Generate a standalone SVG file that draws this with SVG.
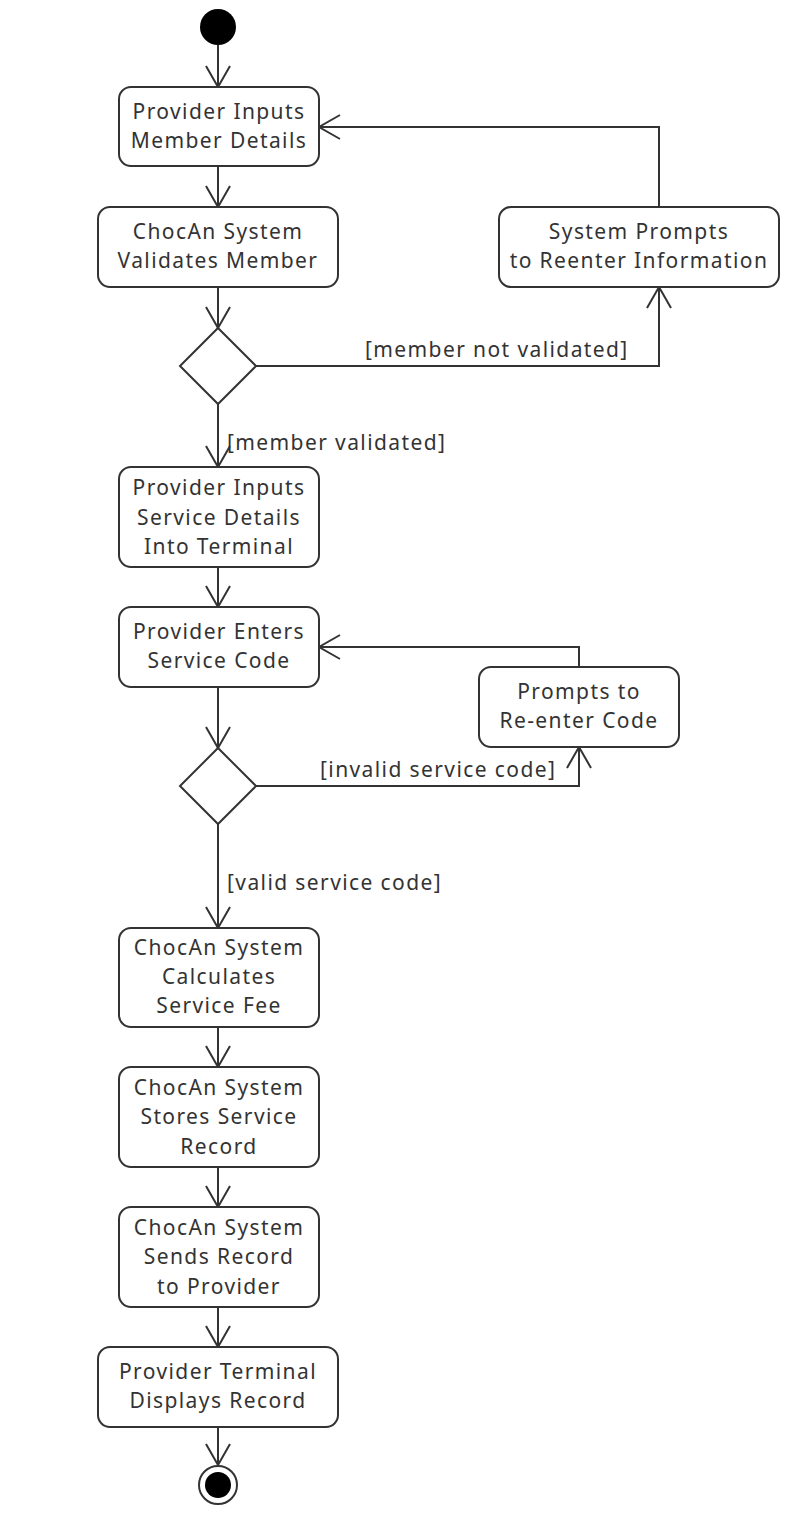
<svg xmlns="http://www.w3.org/2000/svg" width="808" height="1532" viewBox="0 0 808 1532">
<style>
.box{fill:#fff;stroke:#333;stroke-width:2}
.t{font-family:"Noto Sans","Open Sans",sans-serif;font-size:21px;letter-spacing:1.4px;fill:#333;text-anchor:middle}
.l{font-family:"Noto Sans","Open Sans",sans-serif;font-size:21px;letter-spacing:1.4px;fill:#333}
.c{fill:none;stroke:#333;stroke-width:2;marker-end:url(#arr)}
</style>
<defs>
<marker id="arr" markerUnits="userSpaceOnUse" markerWidth="40" markerHeight="40" refX="0" refY="0" viewBox="-25 -20 40 40" orient="auto" overflow="visible">
<path d="M -21 -12 L 0 0 L -21 12" fill="none" stroke="#333" stroke-width="2"/>
</marker>
</defs>
<rect width="808" height="1532" fill="#fff"/>
<g id="connectors">
<path class="c" d="M218 45 V87"/>
<path class="c" d="M218 166 V207"/>
<path class="c" d="M218 287 V328"/>
<path class="c" d="M218 404 V467"/>
<path class="c" d="M256 366 H659 V287"/>
<path class="c" d="M659 207 V127 H319"/>
<path class="c" d="M218 567 V607"/>
<path class="c" d="M218 687 V748"/>
<path class="c" d="M256 786 H579 V747"/>
<path class="c" d="M579 667 V647 H319"/>
<path class="c" d="M218 824 V928"/>
<path class="c" d="M218 1027 V1067"/>
<path class="c" d="M218 1167 V1207"/>
<path class="c" d="M218 1307 V1347"/>
<path class="c" d="M218 1427 V1465"/>
<text class="l" x="365" y="357">[member not validated]</text>
<text class="l" x="227" y="450">[member validated]</text>
<text class="l" x="320" y="777">[invalid service code]</text>
<text class="l" x="227" y="890">[valid service code]</text>
</g>
<g id="start"><circle cx="218" cy="27" r="18" fill="#000"/></g>
<g id="n1"><rect class="box" x="119" y="87" width="200" height="79" rx="12"/><text class="t" x="219" y="119">Provider Inputs</text><text class="t" x="219" y="148">Member Details</text></g>
<g id="n2"><rect class="box" x="98" y="207" width="240" height="80" rx="12"/><text class="t" x="218" y="239">ChocAn System</text><text class="t" x="218" y="268">Validates Member</text></g>
<g id="d1"><path class="box" d="M218 328 L256 366 L218 404 L180 366 Z"/></g>
<g id="n3"><rect class="box" x="499" y="207" width="280" height="80" rx="12"/><text class="t" x="639" y="239">System Prompts</text><text class="t" x="639" y="268">to Reenter Information</text></g>
<g id="n4"><rect class="box" x="119" y="467" width="200" height="100" rx="12"/><text class="t" x="219" y="495">Provider Inputs</text><text class="t" x="219" y="525">Service Details</text><text class="t" x="219" y="554">Into Terminal</text></g>
<g id="n5"><rect class="box" x="119" y="607" width="200" height="80" rx="12"/><text class="t" x="219" y="639">Provider Enters</text><text class="t" x="219" y="668">Service Code</text></g>
<g id="d2"><path class="box" d="M218 748 L256 786 L218 824 L180 786 Z"/></g>
<g id="n6"><rect class="box" x="479" y="667" width="200" height="80" rx="12"/><text class="t" x="579" y="699">Prompts to</text><text class="t" x="579" y="728">Re-enter Code</text></g>
<g id="n7"><rect class="box" x="119" y="928" width="200" height="99" rx="12"/><text class="t" x="219" y="955">ChocAn System</text><text class="t" x="219" y="984">Calculates</text><text class="t" x="219" y="1013">Service Fee</text></g>
<g id="n8"><rect class="box" x="119" y="1067" width="200" height="100" rx="12"/><text class="t" x="219" y="1095">ChocAn System</text><text class="t" x="219" y="1124">Stores Service</text><text class="t" x="219" y="1154">Record</text></g>
<g id="n9"><rect class="box" x="119" y="1207" width="200" height="100" rx="12"/><text class="t" x="219" y="1235">ChocAn System</text><text class="t" x="219" y="1264">Sends Record</text><text class="t" x="219" y="1294">to Provider</text></g>
<g id="n10"><rect class="box" x="98" y="1347" width="240" height="80" rx="12"/><text class="t" x="218" y="1379">Provider Terminal</text><text class="t" x="218" y="1408">Displays Record</text></g>
<g id="end"><circle cx="218" cy="1485" r="19" fill="#fff" stroke="#333" stroke-width="2"/><circle cx="218" cy="1485" r="13" fill="#000"/></g>
</svg>
